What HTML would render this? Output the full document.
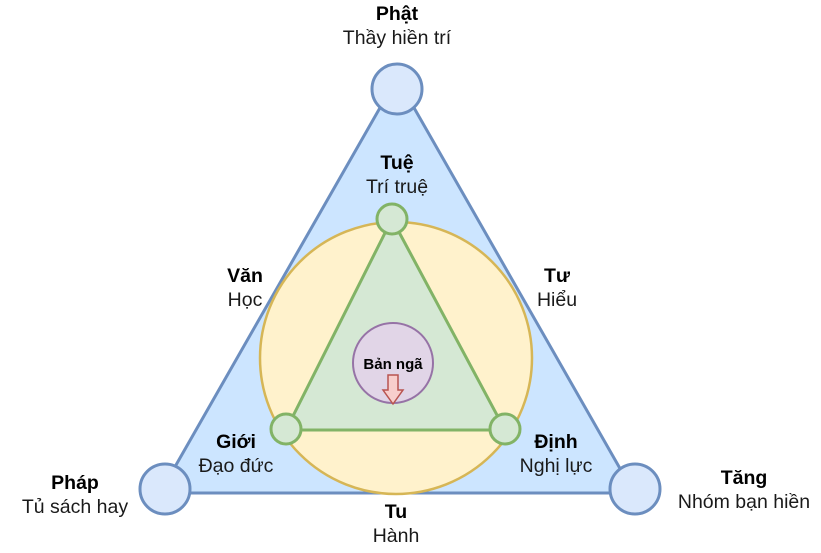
<!DOCTYPE html>
<html><head><meta charset="utf-8"><style>
body{margin:0;background:#fff}
svg text{font-family:"Liberation Sans",sans-serif;font-size:19.5px;fill:#1a1a1a}
.b{font-weight:bold;fill:#000}
</style></head><body>
<svg width="821" height="548" viewBox="0 0 821 548">
<polygon points="397,78 160,493 634,493" fill="#cce5ff" stroke="#6c8ebf" stroke-width="3"/>
<circle cx="396" cy="358" r="136" fill="#fff2cc" stroke="#d6b656" stroke-width="2.5"/>
<polygon points="392,219 286,430 505,430" fill="#d5e8d4" stroke="#82b366" stroke-width="3"/>
<circle cx="397" cy="89" r="25" fill="#dae8fc" stroke="#6c8ebf" stroke-width="3"/>
<circle cx="165" cy="489" r="25" fill="#dae8fc" stroke="#6c8ebf" stroke-width="3"/>
<circle cx="635" cy="489" r="25" fill="#dae8fc" stroke="#6c8ebf" stroke-width="3"/>
<circle cx="392" cy="219" r="15" fill="#d5e8d4" stroke="#82b366" stroke-width="3"/>
<circle cx="286" cy="429" r="15" fill="#d5e8d4" stroke="#82b366" stroke-width="3"/>
<circle cx="505" cy="429" r="15" fill="#d5e8d4" stroke="#82b366" stroke-width="3"/>
<circle cx="393" cy="363" r="40" fill="#e1d5e7" stroke="#9673a6" stroke-width="2"/>
<text class="b" x="393" y="369" text-anchor="middle" style="font-size:15px">Bản ngã</text>
<polygon points="388,375 398,375 398,390 403,390 393,404 383,390 388,390" fill="#f8cecc" stroke="#b85450" stroke-width="1.5"/>
<g text-anchor="middle">
<text class="b" x="397" y="20">Phật</text>
<text x="397" y="44">Thầy hiền trí</text>
<text class="b" x="397" y="169">Tuệ</text>
<text x="397" y="193">Trí truệ</text>
<text class="b" x="245" y="282">Văn</text>
<text x="245" y="306">Học</text>
<text class="b" x="557" y="282">Tư</text>
<text x="557" y="306">Hiểu</text>
<text class="b" x="236" y="448">Giới</text>
<text x="236" y="472">Đạo đức</text>
<text class="b" x="556" y="448">Định</text>
<text x="556" y="472">Nghị lực</text>
<text class="b" x="75" y="489">Pháp</text>
<text x="75" y="513">Tủ sách hay</text>
<text class="b" x="744" y="484">Tăng</text>
<text x="744" y="508">Nhóm bạn hiền</text>
<text class="b" x="396" y="518">Tu</text>
<text x="396" y="542">Hành</text>
</g>
</svg>
</body></html>
